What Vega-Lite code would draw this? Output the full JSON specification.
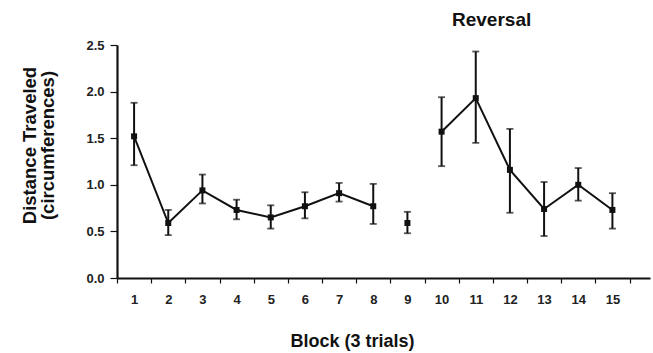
{
  "$schema": "https://vega.github.io/schema/vega-lite/v6.json",
  "autosize": {"type": "none"},
  "padding": {"left": 117, "top": 45, "right": 3, "bottom": 75},
  "width": 533,
  "height": 233,
  "background": "white",
  "title": {
    "text": "Reversal",
    "anchor": "start",
    "frame": "group",
    "dx": 335,
    "offset": -6,
    "baseline": "alphabetic",
    "font": "Liberation Sans",
    "fontSize": 19,
    "fontWeight": "bold",
    "color": "#111"
  },
  "data": {
    "values": [
      {"block": "1", "seg": "A", "mean": 1.52, "lo": 1.21, "hi": 1.88},
      {"block": "2", "seg": "A", "mean": 0.59, "lo": 0.46, "hi": 0.73},
      {"block": "3", "seg": "A", "mean": 0.94, "lo": 0.80, "hi": 1.11},
      {"block": "4", "seg": "A", "mean": 0.73, "lo": 0.63, "hi": 0.84},
      {"block": "5", "seg": "A", "mean": 0.65, "lo": 0.53, "hi": 0.78},
      {"block": "6", "seg": "A", "mean": 0.77, "lo": 0.64, "hi": 0.92},
      {"block": "7", "seg": "A", "mean": 0.91, "lo": 0.82, "hi": 1.02},
      {"block": "8", "seg": "A", "mean": 0.77, "lo": 0.58, "hi": 1.01},
      {"block": "9", "seg": "B", "mean": 0.59, "lo": 0.48, "hi": 0.71},
      {"block": "10", "seg": "C", "mean": 1.57, "lo": 1.20, "hi": 1.94},
      {"block": "11", "seg": "C", "mean": 1.93, "lo": 1.45, "hi": 2.43},
      {"block": "12", "seg": "C", "mean": 1.16, "lo": 0.70, "hi": 1.60},
      {"block": "13", "seg": "C", "mean": 0.74, "lo": 0.45, "hi": 1.03},
      {"block": "14", "seg": "C", "mean": 1.00, "lo": 0.83, "hi": 1.18},
      {"block": "15", "seg": "C", "mean": 0.73, "lo": 0.53, "hi": 0.91}
    ]
  },
  "encoding": {
    "x": {
      "field": "block",
      "type": "ordinal",
      "sort": null,
      "scale": {"paddingInner": 0, "paddingOuter": 0.3, "align": 0},
      "axis": {
        "title": "Block (3 trials)",
        "titleFont": "Liberation Sans",
        "titleFontSize": 18,
        "titleFontWeight": "bold",
        "titleColor": "#111",
        "titleX": 235,
        "titleY": 68,
        "titleAlign": "center",
        "titleBaseline": "alphabetic",
        "labelAngle": 0,
        "labelFont": "Liberation Sans",
        "labelFontSize": 13,
        "labelFontWeight": "bold",
        "labelColor": "#222",
        "labelPadding": 10,
        "tickBand": "extent",
        "tickSize": 5,
        "tickColor": "#111",
        "tickWidth": 1.2,
        "domainColor": "#111",
        "domainWidth": 1.8,
        "grid": false
      }
    }
  },
  "layer": [
    {
      "mark": {"type": "rule", "color": "#111", "strokeWidth": 2},
      "encoding": {
        "y": {
          "field": "lo",
          "type": "quantitative",
          "scale": {"domain": [0, 2.5], "nice": false},
          "axis": {
            "title": ["Distance Traveled", "(circumferences)"],
            "titleFont": "Liberation Sans",
            "titleFontSize": 18.5,
            "titleFontWeight": "bold",
            "titleColor": "#111",
            "titleAngle": -90,
            "titleX": -88,
            "titleY": 100,
            "titleAlign": "center",
            "titleBaseline": "middle",
            "titleLineHeight": 18,
            "values": [0, 0.5, 1, 1.5, 2, 2.5],
            "format": ".1f",
            "labelFont": "Liberation Sans",
            "labelFontSize": 13,
            "labelFontWeight": "bold",
            "labelColor": "#222",
            "labelPadding": 6,
            "tickSize": 7,
            "tickColor": "#111",
            "tickWidth": 1.2,
            "domainColor": "#111",
            "domainWidth": 2.2,
            "grid": false
          }
        },
        "y2": {"field": "hi"}
      }
    },
    {
      "mark": {"type": "tick", "color": "#111", "size": 7, "thickness": 1.8},
      "encoding": {"y": {"field": "hi", "type": "quantitative"}}
    },
    {
      "mark": {"type": "tick", "color": "#111", "size": 7, "thickness": 1.8},
      "encoding": {"y": {"field": "lo", "type": "quantitative"}}
    },
    {
      "mark": {"type": "line", "color": "#111", "strokeWidth": 2},
      "encoding": {
        "y": {"field": "mean", "type": "quantitative"},
        "detail": {"field": "seg"}
      }
    },
    {
      "mark": {"type": "point", "shape": "square", "filled": true, "color": "#111", "size": 36, "opacity": 1},
      "encoding": {"y": {"field": "mean", "type": "quantitative"}}
    }
  ],
  "config": {"view": {"stroke": null}}
}
